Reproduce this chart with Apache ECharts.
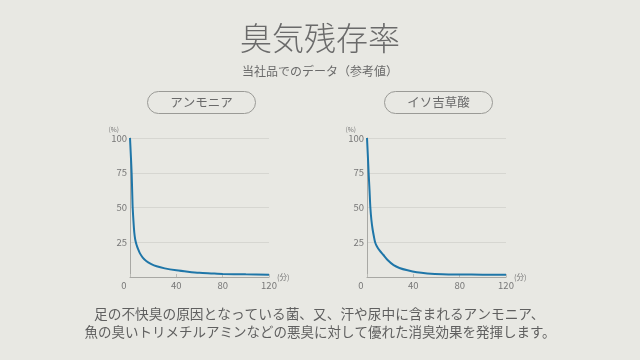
<!DOCTYPE html>
<html><head><meta charset="utf-8">
<script src="https://cdn.jsdelivr.net/npm/echarts@6/dist/echarts.min.js"></script>
<style>html,body{margin:0;padding:0;background:#e8e8e3;}#c{width:640px;height:360px;}</style>
</head><body><div id="c"></div>
<script>
const titleText = '臭気残存率';
const subtitleText = '当社品でのデータ（参考値）';
const seriesNames = ['アンモニア', 'イソ吉草酸'];
const ammoniaTimes = [0, 0.7, 1.4, 2, 2.3, 3, 3.7, 4.5, 5.7, 7, 8.6, 11, 14, 18, 23, 30, 40, 50, 60, 70, 80, 100, 120];
const ammoniaValues = [100, 88, 75, 58, 50, 40, 32, 27, 23, 20, 17, 14, 11.5, 9.5, 7.7, 6.2, 4.8, 3.8, 3.0, 2.6, 2.2, 1.9, 1.7];
const isovalericTimes = [0, 0.7, 1.4, 2.2, 2.9, 3.8, 4.9, 6, 7, 8.6, 11, 14, 18, 23, 28, 35, 43, 52, 65, 80, 100, 120];
const isovalericValues = [100, 88, 75, 62, 50, 41, 34, 29, 25, 22, 19, 16, 12, 8.5, 6.5, 4.8, 3.4, 2.6, 2.0, 1.8, 1.7, 1.7];
const xTicks = [0, 40, 80, 120];
const yTicks = [0, 25, 50, 75, 100];
const footerLines = ['足の不快臭の原因となっている菌、又、汗や尿中に含まれるアンモニア、',
  '魚の臭いトリメチルアミンなどの悪臭に対して優れた消臭効果を発揮します。'];

const FONT = '"Noto Sans CJK JP", "Noto Sans", sans-serif';
const grey = '#777';
const chart = echarts.init(document.getElementById('c'));

function xAxisFor(i) {
  return {
    type: 'value', gridIndex: i, min: xTicks[0], max: xTicks[xTicks.length - 1], interval: 40,
    name: '(分)', nameLocation: 'end', nameGap: 8,
    nameTextStyle: { color: grey, fontSize: 7.5, fontFamily: FONT, padding: [14, 0, 0, 0] },
    axisLine: { lineStyle: { color: '#a8a8a4', width: 1 } },
    axisTick: { show: true, inside: true, length: 3, lineStyle: { color: '#bdbdb8' } },
    splitLine: { show: false },
    axisLabel: {
      color: grey, fontSize: 9.5, fontFamily: FONT, margin: 4,
      formatter: v => v === 0 ? '{z|0}' : String(v),
      rich: { z: { color: grey, fontSize: 9.5, fontFamily: FONT, padding: [0, 12, 0, 0] } }
    }
  };
}
function yAxisFor(i) {
  return {
    type: 'value', gridIndex: i, min: yTicks[0], max: yTicks[yTicks.length - 1], interval: 25,
    name: '(%)', nameLocation: 'end', nameGap: 5,
    nameTextStyle: { color: grey, fontSize: 6.5, fontFamily: FONT, align: 'right', padding: [0, 11, 0, 0] },
    axisLine: { show: true, lineStyle: { color: '#a8a8a4', width: 1 } },
    axisTick: { show: false },
    splitLine: { show: true, lineStyle: { color: '#d6d6d1', width: 1 } },
    axisLabel: {
      color: grey, fontSize: 9.5, fontFamily: FONT, margin: 3,
      formatter: v => v === 0 ? '' : String(v)
    }
  };
}
function lineSeries(i, times, values) {
  return {
    type: 'line', name: seriesNames[i], xAxisIndex: i, yAxisIndex: i,
    data: times.map((t, k) => [t, values[k]]),
    smooth: 0.25, showSymbol: false,
    lineStyle: { color: '#1f76a8', width: 2 }
  };
}
function pill(cx, text) {
  return {
    type: 'group', left: cx - 54, top: 91,
    children: [
      { type: 'rect', shape: { x: 0, y: 0, width: 108, height: 22, r: 11 },
        style: { fill: 'transparent', stroke: '#9a9a96', lineWidth: 1 } },
      { type: 'text', x: 54, y: 11, style: { text: text, fill: '#6a6a6a', font: '12.5px ' + FONT, textAlign: 'center', textVerticalAlign: 'middle' } }
    ]
  };
}

chart.setOption({
  backgroundColor: '#e8e8e3',
  animation: false,
  title: [
    { text: titleText, left: 'center', top: 17, textStyle: { color: '#6a6a6a', fontSize: 32, fontWeight: 300, fontFamily: FONT } },
    { text: subtitleText, left: 'center', top: 60, textStyle: { color: '#6a6a6a', fontSize: 12, fontWeight: 'normal', fontFamily: FONT } },
    { text: footerLines[0], left: 89, top: 302, textStyle: { color: '#5f5f5f', fontSize: 13.7, fontWeight: 'normal', fontFamily: FONT } },
    { text: footerLines[1], left: 'center', top: 320, textStyle: { color: '#5f5f5f', fontSize: 13.5, fontWeight: 'normal', fontFamily: FONT } }
  ],
  grid: [
    { left: 130, right: 371, top: 138, bottom: 83 },
    { left: 367, right: 134, top: 138, bottom: 83 }
  ],
  xAxis: [xAxisFor(0), xAxisFor(1)],
  yAxis: [yAxisFor(0), yAxisFor(1)],
  series: [lineSeries(0, ammoniaTimes, ammoniaValues), lineSeries(1, isovalericTimes, isovalericValues)],
  graphic: [pill(201, seriesNames[0]), pill(438, seriesNames[1])]
});
</script></body></html>
